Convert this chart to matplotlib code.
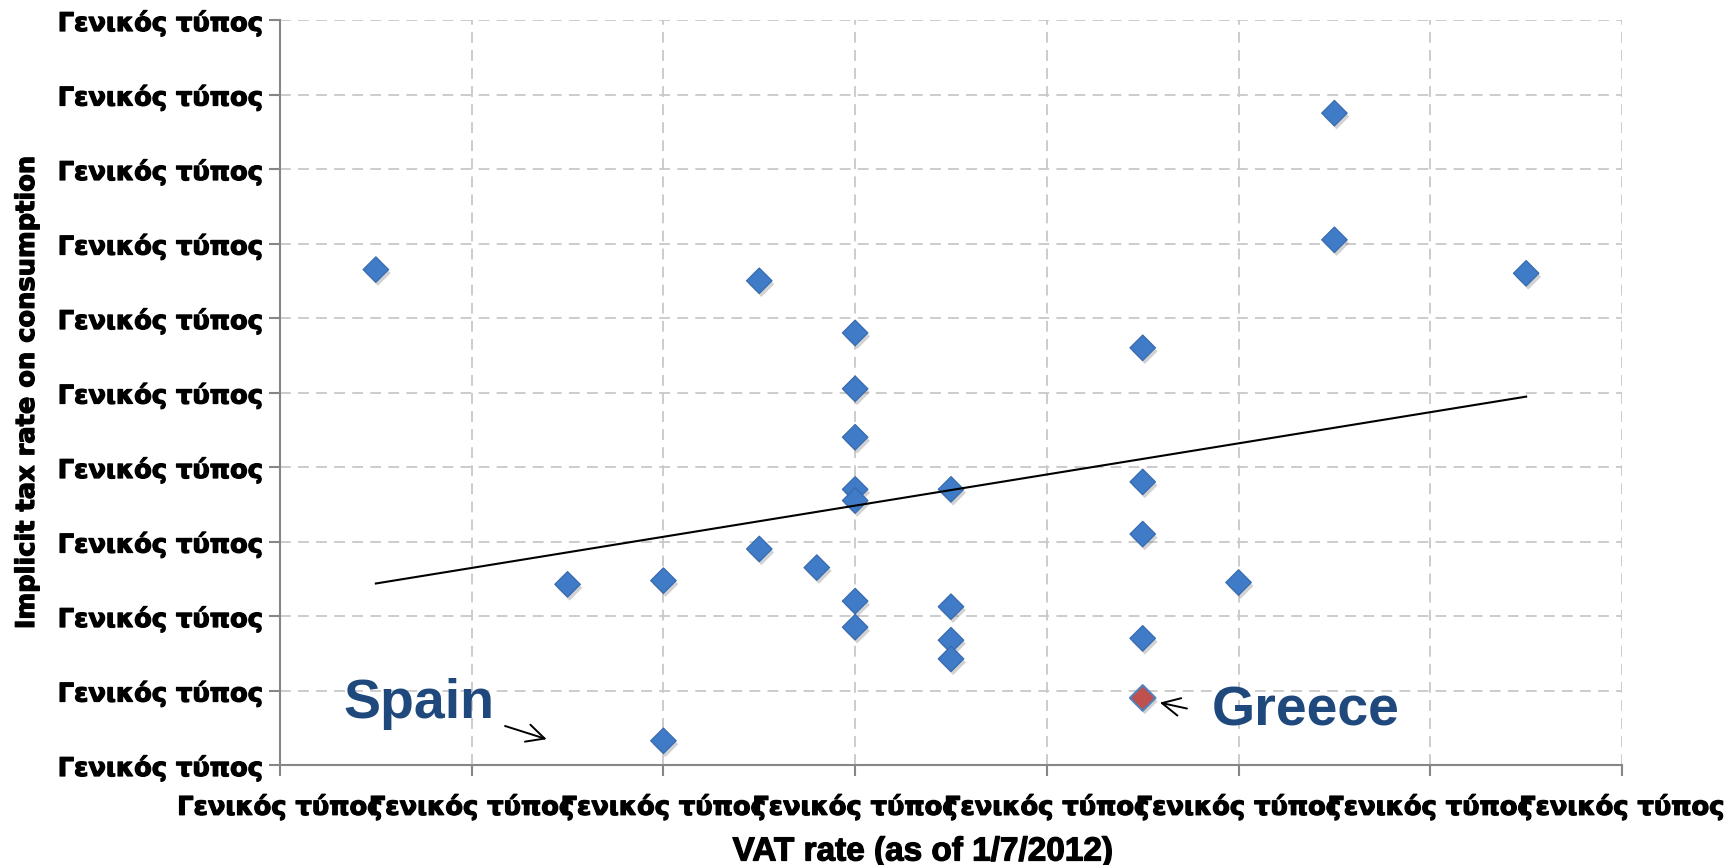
import numpy as np
import matplotlib
matplotlib.use('Agg')
import matplotlib.pyplot as plt
import matplotlib.patheffects as pe

# VAT rate (1/7/2012) vs implicit tax rate on consumption, EU countries
vat = [15, 17, 18, 18, 19, 19, 19.6, 20, 20, 20, 20, 20, 20, 20,
       21, 21, 21, 21, 23, 23, 23, 23, 24, 25, 25, 27]
itr = [27.3, 18.85, 18.95, 14.65, 27.0, 19.8, 19.3, 25.6, 24.1, 22.8, 21.4, 21.1, 18.4, 17.7,
       21.4, 18.25, 17.35, 16.85, 25.2, 21.6, 20.2, 17.4, 18.9, 31.5, 28.1, 27.2]
greece_vat = 23
greece_itr = 15.8

xticks = [14, 16, 18, 20, 22, 24, 26, 28]
yticks = [14, 16, 18, 20, 22, 24, 26, 28, 30, 32, 34]
tick_text = 'Γενικός τύπος'

W, H = 1730, 865
fig = plt.figure(figsize=(W / 100, H / 100), dpi=100)
ax = fig.add_axes([280 / W, 1 - 765 / H, (1622 - 280) / W, (765 - 20) / H])

all_x = np.array(vat + [greece_vat])
all_y = np.array(itr + [greece_itr])

shadow = [pe.SimplePatchShadow(offset=(1.5, -2.5), shadow_rgbFace='#7f7f7f', alpha=0.35), pe.Normal()]
heavy = [pe.withStroke(linewidth=0.9, foreground='black')]

ax.scatter(vat, itr, marker='D', s=170, color='#3f7bc6', edgecolor='#3568ad',
           linewidth=0.8, zorder=3, path_effects=shadow)
ax.scatter([greece_vat], [greece_itr], marker='D', s=170, color='#c0504d',
           edgecolor='#4f81bd', linewidth=1.5, zorder=3, path_effects=shadow)

# linear trendline
k, b = np.polyfit(all_x, all_y, 1)
xx = np.array([all_x.min(), all_x.max()])
ax.plot(xx, k * xx + b, color='black', lw=1.5, zorder=4)

ax.set_xlim(14, 28)
ax.set_ylim(14, 34)
ax.set_xticks(xticks)
ax.set_yticks(yticks)
ax.set_xticklabels([tick_text] * len(xticks))
ax.set_yticklabels([tick_text] * len(yticks))
for lab in ax.get_xticklabels() + ax.get_yticklabels():
    lab.set_fontfamily('DejaVu Sans')
    lab.set_fontweight('bold')
    lab.set_fontsize(18.5)
    lab.set_path_effects(heavy)
ax.tick_params(axis='both', colors='#868686', length=8, width=1.5, labelcolor='black')
ax.tick_params(axis='x', pad=12)
ax.tick_params(axis='y', pad=4)

ax.grid(True, color='#c8c8c8', linestyle=(0, (6, 4)), linewidth=1.3, zorder=0)
ax.set_axisbelow(True)
for s in ['top', 'right']:
    ax.spines[s].set_visible(False)
for s in ['left', 'bottom']:
    ax.spines[s].set_color('#868686')
    ax.spines[s].set_linewidth(1.5)

# annotations
blue = '#1f497d'
ax.text(14.66, 15.26, 'Spain', color=blue, fontsize=40, fontweight='bold',
        family='Liberation Sans', ha='left', va='baseline')
ax.annotate('', xy=(16.81, 14.67), xytext=(16.32, 15.07),
            arrowprops=dict(arrowstyle='->', color='black', lw=1.4, mutation_scale=32))
ax.text(23.72, 15.07, 'Greece', color=blue, fontsize=40, fontweight='bold',
        family='Liberation Sans', ha='left', va='baseline')
ax.annotate('', xy=(23.15, 15.69), xytext=(23.49, 15.50),
            arrowprops=dict(arrowstyle='->', color='black', lw=1.4, mutation_scale=32))

fig.text(923 / W, 1 - 852 / H, 'VAT rate (as of 1/7/2012)', fontsize=24,
         fontweight='bold', family='Liberation Sans', ha='center', va='center',
         path_effects=heavy)
fig.text(27 / W, 1 - 392 / H, 'Implicit tax rate on consumption', fontsize=18.5,
         fontweight='bold', family='DejaVu Sans', rotation=90, ha='center', va='center',
         path_effects=heavy)

fig.savefig('out.png', dpi=100)
